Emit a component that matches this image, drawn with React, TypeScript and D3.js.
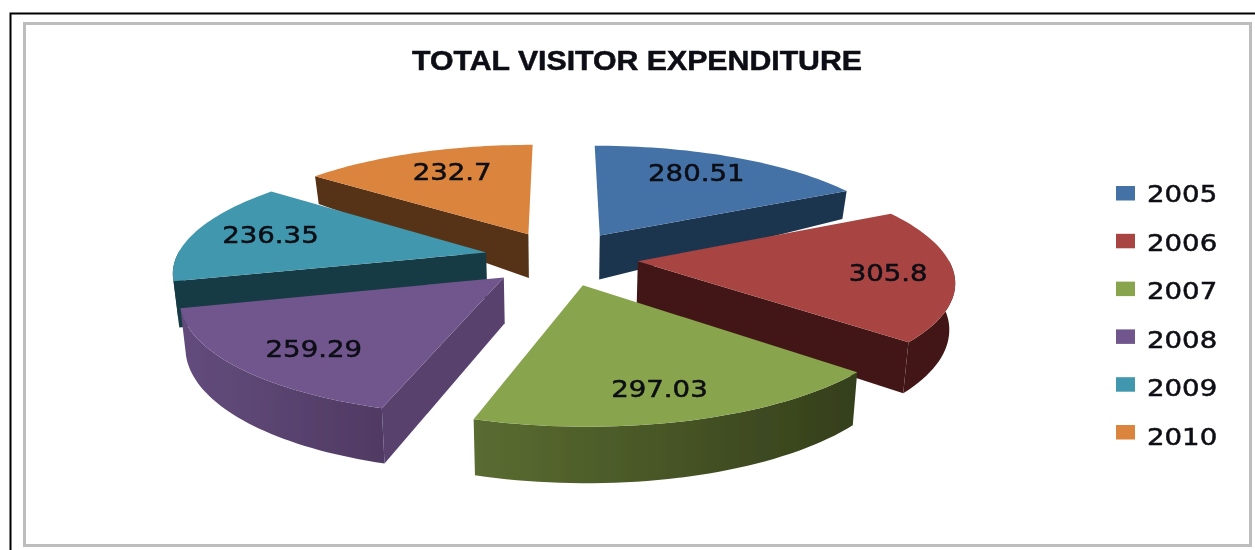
import React from 'react';
import * as d3 from 'd3';

const width = 1255;
const height = 550;

const title = 'TOTAL VISITOR EXPENDITURE';
const years = ['2005', '2006', '2007', '2008', '2009', '2010'];
const expenditure = [280.51, 305.8, 297.03, 259.29, 236.35, 232.7];
const valueLabels = ['280.51', '305.8', '297.03', '259.29', '236.35', '232.7'];
const topColors = ['#4472a6', '#a84542', '#88a44d', '#71578e', '#4197ae', '#da843d'];
const wallColors = ['#1f3550', '#431917', '#3a451e', '#58426d', '#193a45', '#573216'];
const rimLeft = ['#1f3550', '#431917', '#5a6c31', '#624c7c', '#193a45', '#573216'];
const rimRight = ['#1f3550', '#431917', '#353f1b', '#503a63', '#193a45', '#573216'];
// hand placement of the value labels, Excel does not set them strictly radially
const labelNudgeX = [-3, 20, 0, 0, -3, 7];
const labelNudgeY = [2, 1, -2, 0, 0, 5];

// pie geometry, fitted to the picture
const cx = 561;
const cy = 258;
const radius = 310;
const explode = 77;
const tilt = 0.355;
const camera = 2000;
const depthOf = d3.scaleLinear().domain([-400, -180, -60, 60, 400]).range([27, 28, 45, 46, 57]).clamp(true);

const project = (X: number, Y: number, z: number): [number, number] => {
  const s = 1 / (1 - Y / camera);
  return [cx + X * s * (1 - 0.015 * z), cy + Y * tilt * s + depthOf(Y) * z];
};

const line = d3.line();
const slices = d3.pie<number>().sort(null)(expenditure);

const shapes = slices.map((d, i) => {
  const mid = (d.startAngle + d.endAngle) / 2;
  const ox = explode * Math.sin(mid);
  const oy = -explode * Math.cos(mid);
  const angles = d3.range(0, 41).map(t => d.startAngle + ((d.endAngle - d.startAngle) * t) / 40);
  const at = (a: number, z: number) => project(ox + radius * Math.sin(a), oy - radius * Math.cos(a), z);
  const top = angles.map(a => at(a, 0));
  const apexTop = project(ox, oy, 0);
  const apexBottom = project(ox, oy, 1);
  const wall = (a: number) => line([apexTop, at(a, 0), at(a, 1), apexBottom]) + 'Z';
  // only the front of the rim and the radial faces turned to the viewer show
  const front = angles.filter(a => Math.cos(a) < 0.02);
  const frontTop = front.map(a => at(a, 0));
  const frontBottom = front.map(a => at(a, 1));
  const xs = frontBottom.map(p => p[0]);
  const labelPos = project(
    ox + radius * 0.73 * Math.sin(mid),
    oy - radius * 0.81 * Math.cos(mid),
    0
  );
  return {
    i,
    order: oy,
    top: line([apexTop, ...top]) + 'Z',
    rim: front.length ? line([...frontTop, ...frontBottom.reverse()]) + 'Z' : null,
    wallStart: Math.sin(d.startAngle) < -0.01 ? wall(d.startAngle) : null,
    wallEnd: Math.sin(d.endAngle) > 0.01 ? wall(d.endAngle) : null,
    x0: d3.min(xs) ?? 0,
    x1: d3.max(xs) ?? 1,
    labelX: labelPos[0] + labelNudgeX[i],
    labelY: labelPos[1] + labelNudgeY[i],
  };
});

// back slices first so the front ones overlap them
const drawOrder = d3.sort(shapes, s => s.order);

const legendY = d3.scalePoint<string>().domain(years).range([193.5, 432.5]);
const legendTextY = d3.scalePoint<string>().domain(years).range([202, 445]);

const textStretch = 1.2;

export default function App() {
  return (
    <svg
      width={width}
      height={height}
      viewBox={`0 0 ${width} ${height}`}
      style={{ position: 'absolute', left: 0, top: 0, background: '#fff' }}
    >
      <defs>
        <filter id="soft" x="0" y="0" width={width} height={height} filterUnits="userSpaceOnUse">
          <feGaussianBlur stdDeviation="0.7" />
        </filter>
        <filter id="softer" x="0" y="0" width={width} height={height} filterUnits="userSpaceOnUse">
          <feGaussianBlur stdDeviation="0.4" />
        </filter>
        {shapes.map(s => (
          <linearGradient key={s.i} id={`rim-${s.i}`} gradientUnits="userSpaceOnUse" x1={s.x0} x2={s.x1} y1={0} y2={0}>
            <stop offset="0" stopColor={rimLeft[s.i]} />
            <stop offset="1" stopColor={rimRight[s.i]} />
          </linearGradient>
        ))}
      </defs>
      <g filter="url(#softer)">
        <path d="M10.5,550V13.5H1255" fill="none" stroke="#000" strokeWidth={2} />
        <rect x={24.5} y={23.5} width={1226} height={522} fill="#fff" stroke="#bdbdbd" strokeWidth={3} />

        <text
          x={412}
          y={70}
          fontFamily="'Liberation Sans', sans-serif"
          fontWeight="bold"
          fontSize={27}
          fill="#0c0c14"
          stroke="#0c0c14"
          strokeWidth={0.5}
          textLength={450}
          lengthAdjust="spacingAndGlyphs"
        >
          {title}
        </text>
      </g>
      <g filter="url(#soft)">
        {drawOrder.map(s => (
          <g key={years[s.i]}>
            {s.wallStart && <path d={s.wallStart} fill={wallColors[s.i]} />}
            {s.wallEnd && <path d={s.wallEnd} fill={wallColors[s.i]} />}
            {s.rim && <path d={s.rim} fill={`url(#rim-${s.i})`} />}
            <path d={s.top} fill={topColors[s.i]} />
          </g>
        ))}

        {shapes.map(s => (
          <text
            key={valueLabels[s.i]}
            transform={`translate(${s.labelX},${s.labelY + 8}) scale(${textStretch},1)`}
            textAnchor="middle"
            fontFamily="'DejaVu Sans', sans-serif"
            fontSize={23}
            fill="#0c0c14"
            stroke="#0c0c14"
            strokeWidth={0.5}
          >
            {valueLabels[s.i]}
          </text>
        ))}

        {years.map((y, i) => (
          <g key={y}>
            <rect x={1116} y={(legendY(y) as number) - 7.5} width={19} height={14.5} fill={topColors[i]} />
            <text
              transform={`translate(1147,${legendTextY(y)}) scale(${textStretch},1)`}
              fontFamily="'DejaVu Sans', sans-serif"
              fontSize={23}
              fill="#0c0c14"
              stroke="#0c0c14"
              strokeWidth={0.5}
            >
              {y}
            </text>
          </g>
        ))}
      </g>
    </svg>
  );
}
